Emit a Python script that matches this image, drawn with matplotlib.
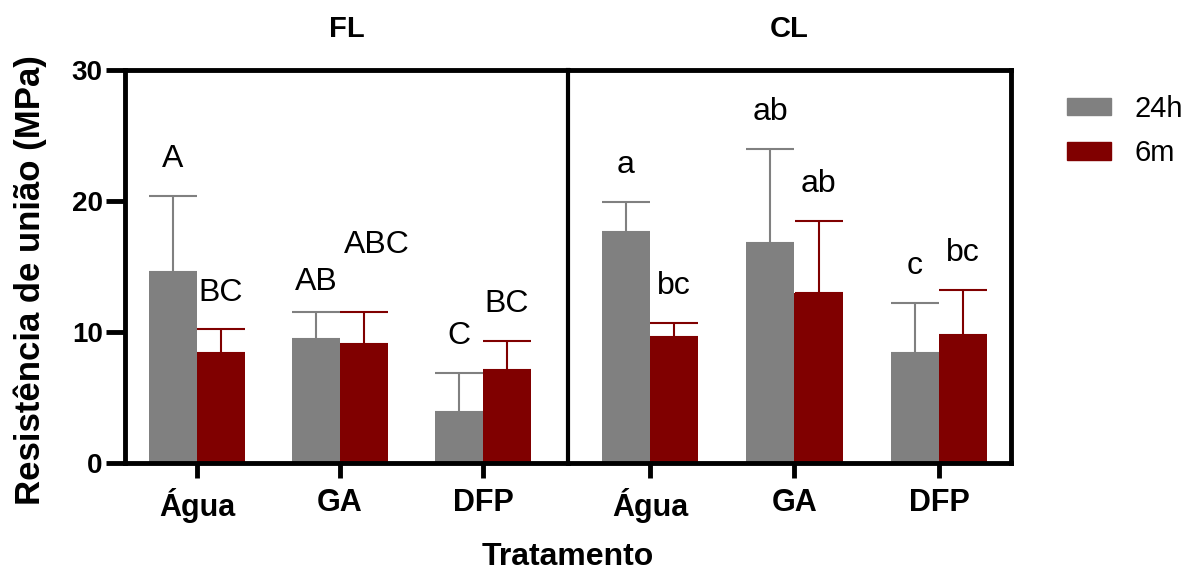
import numpy as np
import matplotlib
matplotlib.use("Agg")
import matplotlib.pyplot as plt
from matplotlib.patches import Patch

plt.rcParams['font.family'] = ['Liberation Sans', 'DejaVu Sans']

# data
treatments = ['Água', 'GA', 'DFP']
panels = ['FL', 'CL']
series = ['24h', '6m']

fl_24h_mean = [14.6, 9.5, 3.9]
fl_24h_sd = [5.8, 2.0, 3.0]
fl_6m_mean = [8.4, 9.1, 7.1]
fl_6m_sd = [1.8, 2.4, 2.2]

cl_24h_mean = [17.6, 16.8, 8.4]
cl_24h_sd = [2.3, 7.2, 3.8]
cl_6m_mean = [9.6, 13.0, 9.8]
cl_6m_sd = [1.1, 5.5, 3.4]

fl_24h_letters = ['A', 'AB', 'C']
fl_6m_letters = ['BC', 'ABC', 'BC']
cl_24h_letters = ['a', 'ab', 'c']
cl_6m_letters = ['bc', 'ab', 'bc']

colors = {'24h': '#808080', '6m': '#800000'}

W, H = 1200, 573
fig = plt.figure(figsize=(W / 100, H / 100), dpi=100)
bottom = 1 - 463 / H
height = 393 / H
ax1 = fig.add_axes([125 / W, bottom, 443 / W, height])
ax2 = fig.add_axes([568 / W, bottom, 443 / W, height])

panel_data = [
    (ax1, panels[0], [fl_24h_mean, fl_6m_mean], [fl_24h_sd, fl_6m_sd],
     [fl_24h_letters, fl_6m_letters], (-0.503, 2.594)),
    (ax2, panels[1], [cl_24h_mean, cl_6m_mean], [cl_24h_sd, cl_6m_sd],
     [cl_24h_letters, cl_6m_letters], (-0.567, 2.498)),
]

width = 0.334
x = np.arange(len(treatments))

for ax, title, means, sds, letters, xlim in panel_data:
    for i, s in enumerate(series):
        xs = x + (i - 0.5) * width
        m = np.array(means[i])
        sd = np.array(sds[i])
        ax.bar(xs, m, width=width, color=colors[s], zorder=2)
        ax.errorbar(xs, m, yerr=[np.zeros_like(sd), sd], fmt='none',
                    ecolor=colors[s], elinewidth=1.5, capsize=17,
                    capthick=1.5, zorder=1)
        for j, lab in enumerate(letters[i]):
            dx, dy = 0.0, 2.2
            if lab == 'ABC':
                dx, dy = 0.09, 4.5
            elif lab == 'AB':
                dy = 1.7
            ax.text(xs[j] + dx, m[j] + sd[j] + dy, lab, ha='center',
                    va='baseline', fontsize=23, color='black')

    ax.set_xlim(*xlim)
    ax.set_ylim(0, 30)
    ax.set_xticks(x)
    ax.set_xticklabels(treatments, fontsize=22, fontweight='bold')
    ax.set_title(title, fontsize=21, fontweight='bold', pad=24)
    for sp in ax.spines.values():
        sp.set_linewidth(3.5)
    ax.tick_params(axis='x', length=11, width=3.5, pad=7)
    ax.tick_params(axis='y', length=14, width=3.5, pad=2, labelsize=20)

ax1.set_yticks([0, 10, 20, 30])
for t in ax1.get_yticklabels():
    t.set_fontweight('bold')
# the divider between panels is the left spine of the right panel
ax1.spines['right'].set_visible(False)
ax2.spines['left'].set_linewidth(3)
ax2.tick_params(axis='y', left=False, labelleft=False)

fig.text(30 / W, 1 - 280 / H, 'Resistência de união (MPa)', rotation=90,
         ha='center', va='center', fontsize=25, fontweight='bold')
fig.text(568 / W, 1 - 565 / H, 'Tratamento', ha='center', va='baseline',
         fontsize=23, fontweight='bold')

handles = [Patch(color=colors[s], label=s) for s in series]
fig.legend(handles=handles, loc='upper left',
           bbox_to_anchor=(1067 / W, 1 - 95 / H), frameon=False,
           fontsize=21, borderpad=0, borderaxespad=0, handlelength=1.5,
           handleheight=0.55, handletextpad=0.8, labelspacing=0.55)

fig.savefig('out.png', dpi=100)
